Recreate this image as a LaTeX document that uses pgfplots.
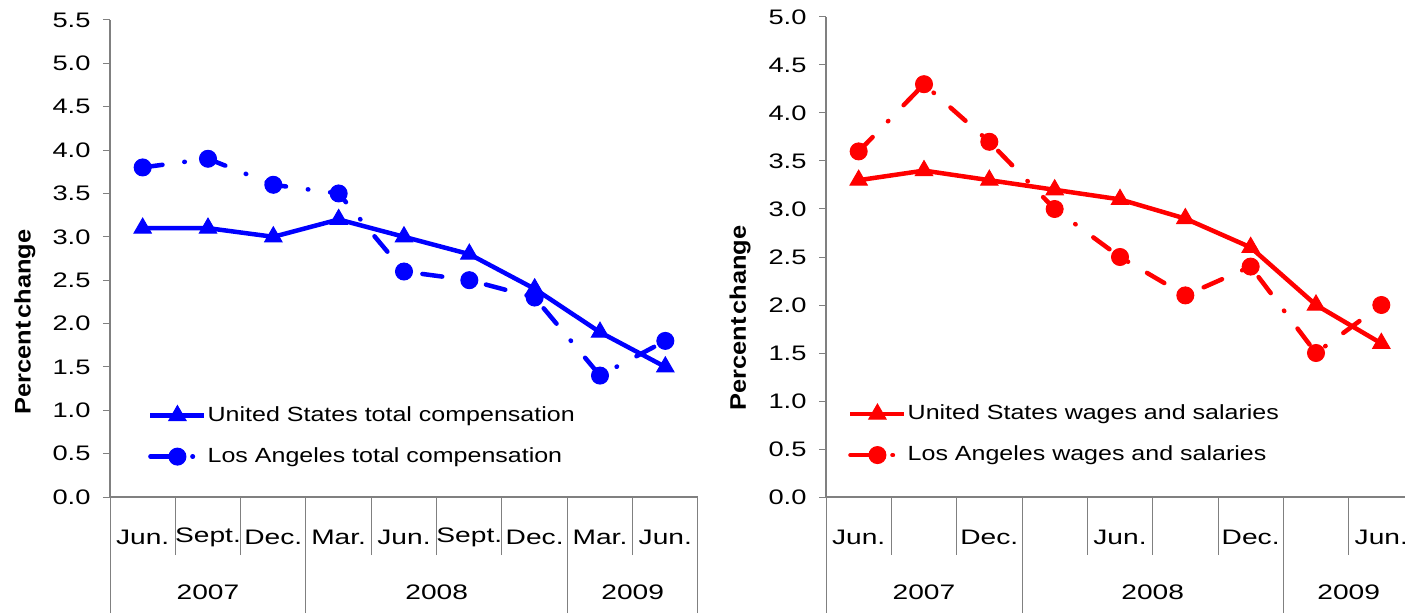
\documentclass[border=0pt]{standalone}
\usepackage{fontspec}
\usepackage{graphicx}
\setmainfont{Liberation Sans}
\newfontfamily\catfont{Liberation Sans}[FakeStretch=1.34]
\newfontfamily\legfont{Liberation Sans}[FakeStretch=1.22]
\newfontfamily\labfont{Liberation Sans}[FakeStretch=1.13]
\usepackage{pgfplots}
\pgfplotsset{compat=1.18}

\pgfplotstableread{
x us la
0 3.1 3.8
1 3.1 3.9
2 3.0 3.6
3 3.2 3.5
4 3.0 2.6
5 2.8 2.5
6 2.4 2.3
7 1.9 1.4
8 1.5 1.8
}\totalcomp

\pgfplotstableread{
x us la
0 3.3 3.6
1 3.4 4.3
2 3.3 3.7
3 3.2 3.0
4 3.1 2.5
5 2.9 2.1
6 2.6 2.4
7 2.0 1.5
8 1.6 2.0
}\wages

\pgfplotsset{
  mychart/.style={
    scale only axis, width=588pt,
    xmin=-0.5, xmax=8.5, ymin=0,
    clip=false,
    axis x line*=bottom, axis y line*=left,
    axis line style={gray, line width=1.3pt},
    tick align=outside,
    xtick={0,...,8},
    major x tick style={draw=none},
    minor xtick={-0.5,0.5,...,8.5},
    minor x tick style={gray, line width=1pt},
    minor tick length=58pt,
    major y tick style={gray, line width=1pt},
    major tick length=7pt,
    extra x tick labels={},
    extra x tick style={major tick length=116pt, major x tick style={draw=gray, line width=1pt}},
    yticklabel={\scalebox{1.3}[1]{\pgfmathprintnumber[fixed,fixed zerofill,precision=1,assume math mode=true]{\tick}}},
    yticklabel style={font=\fontsize{21}{25}\selectfont, xshift=-9pt},
    xticklabel style={font=\catfont\fontsize{21}{25}\selectfont, anchor=center, yshift=-33pt},
    ylabel={{\spaceskip=0.12em Percent change}},
    ylabel style={font=\labfont\bfseries\fontsize{22.5}{27}\selectfont, anchor=center, rotate=0},
    legend cell align=left,
    legend style={draw=none, fill=none, anchor=north west, inner sep=0pt,
      font=\legfont\fontsize{20.5}{24.5}\selectfont,
      row sep=22pt, nodes={inner xsep=1pt, inner ysep=0pt, text height=15pt, text depth=4pt}},
    legend image code/.code={\draw[mark repeat=2,mark phase=2,##1] plot coordinates {(0pt,0pt) (27pt,0pt) (54pt,0pt)};},
  },
  usline/.style={line width=4.5pt, mark=triangle*, mark size=10pt, mark options={solid, line width=1pt}},
  laline/.style={line width=4.5pt, line cap=round, mark=*, mark size=8.5pt, mark options={solid, line width=1pt},
    dash pattern=on 20pt off 22pt on 0.5pt off 22pt},
}

\begin{document}
\begin{tikzpicture}
\path[use as bounding box] (0,0) rectangle (1405pt,613pt);
\clip (0,0) rectangle (1405pt,613pt);

\begin{axis}[mychart, at={(110pt,116pt)}, anchor=south west,
  height=477pt, ymax=5.5, ytick={0,0.5,...,5.5},
  xticklabels={Jun.,Sept.,Dec.,Mar.,Jun.,Sept.,Dec.,Mar.,Jun.},
  extra x ticks={-0.5,2.5,6.5,8.5},
  ylabel style={at={(axis description cs:-0.1446,0.367)}},
  legend style={at={(axis description cs:0.0646,0.192)}},
]
\addplot[usline, blue] table[x=x,y=us] {\totalcomp};
\addlegendentry{United States total compensation}
\addplot[laline, blue] table[x=x,y=la] {\totalcomp};
\addlegendentry{Los Angeles total compensation}
\node[font=\catfont\fontsize{21}{25}\selectfont] at (axis cs:1,0) [yshift=-95pt] {2007};
\node[font=\catfont\fontsize{21}{25}\selectfont] at (axis cs:4.5,0) [yshift=-95pt] {2008};
\node[font=\catfont\fontsize{21}{25}\selectfont] at (axis cs:7.5,0) [yshift=-95pt] {2009};
\end{axis}

\begin{axis}[mychart, at={(826pt,116pt)}, anchor=south west,
  height=480pt, ymax=5.0, ytick={0,0.5,...,5.0},
  xticklabels={Jun.,,Dec.,,Jun.,,Dec.,,Jun.},
  extra x ticks={-0.5,2.5,6.5,8.5},
  ylabel style={at={(axis description cs:-0.146,0.373)}},
  legend style={at={(axis description cs:0.0374,0.194)}},
]
\addplot[usline, red] table[x=x,y=us] {\wages};
\addlegendentry{United States wages and salaries}
\addplot[laline, red] table[x=x,y=la] {\wages};
\addlegendentry{Los Angeles wages and salaries}
\node[font=\catfont\fontsize{21}{25}\selectfont] at (axis cs:1,0) [yshift=-95pt] {2007};
\node[font=\catfont\fontsize{21}{25}\selectfont] at (axis cs:4.5,0) [yshift=-95pt] {2008};
\node[font=\catfont\fontsize{21}{25}\selectfont] at (axis cs:7.5,0) [yshift=-95pt] {2009};
\end{axis}
\end{tikzpicture}
\end{document}
